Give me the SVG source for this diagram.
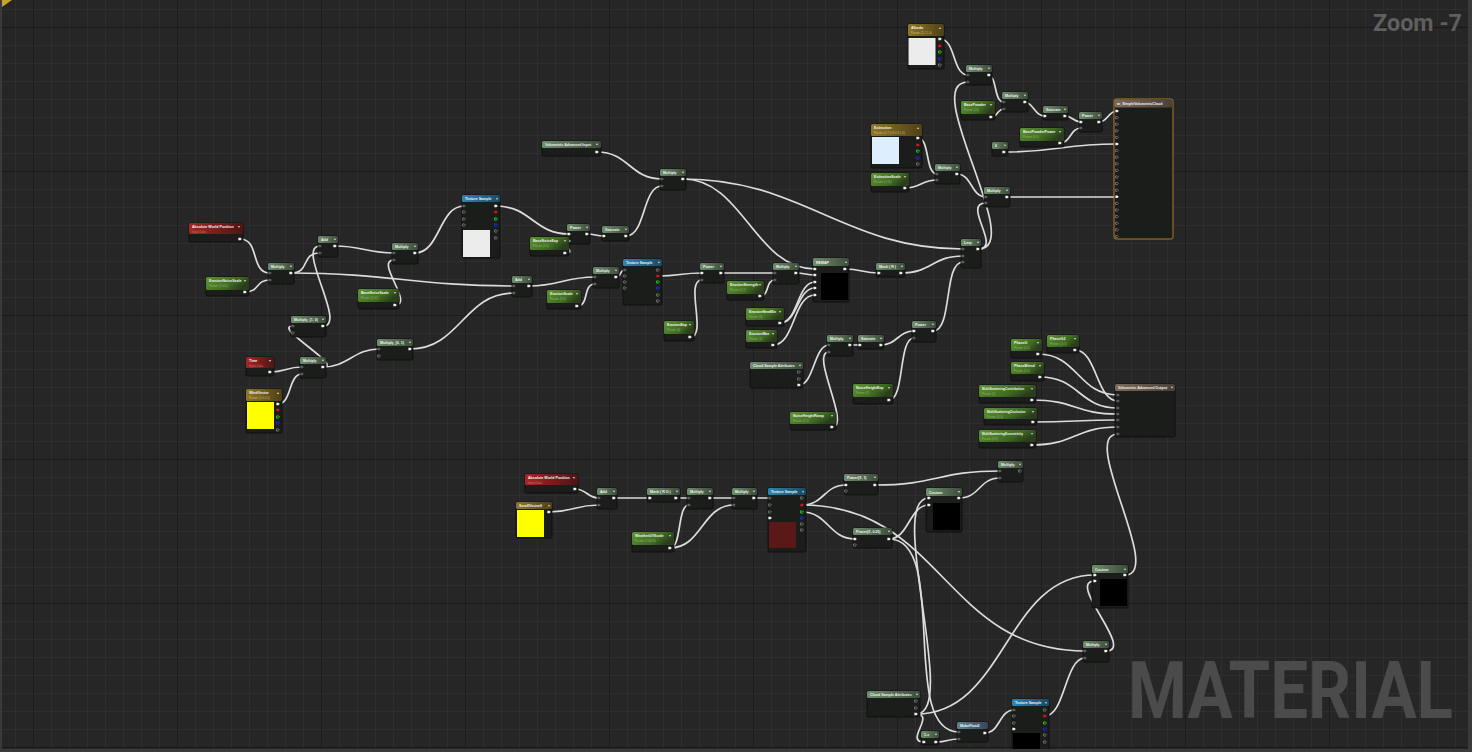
<svg xmlns="http://www.w3.org/2000/svg" xmlns:xlink="http://www.w3.org/1999/xlink" width="1472" height="752" viewBox="0 0 1472 752">
<style>
.b{fill:#1b1d1b;stroke:#0b0b0b;stroke-width:0.8}
.hm{fill:url(#gM)}.hp{fill:url(#gP)}.hr{fill:url(#gR)}.hy{fill:url(#gY)}.hb{fill:url(#gB)}.ho{fill:url(#gO)}.hf{fill:url(#gF)}
.t{font-family:"Liberation Sans",Arial,sans-serif;font-size:3.6px;font-weight:bold;fill:#f2f2f2}
.s{font-family:"Liberation Sans",Arial,sans-serif;font-size:3px;fill:#8fae6f}
.sr{font-family:"Liberation Sans",Arial,sans-serif;font-size:3px;fill:#d07070}
.w{fill:none;stroke:#dcdcdc;stroke-width:1.7;stroke-linecap:round}
.big{font-family:Roboto,"Liberation Sans",sans-serif;font-weight:bold}
</style>
<defs>
<pattern id="minor" width="18" height="18" x="15" y="9" patternUnits="userSpaceOnUse"><path d="M0,0V18M0,0H18" stroke="#353535" stroke-width="1" fill="none"/></pattern>
<pattern id="major" width="144" height="144" x="33" y="27" patternUnits="userSpaceOnUse"><path d="M0,0V144M0,0H144" stroke="#121212" stroke-width="1.3" fill="none"/></pattern>
<linearGradient id="gM" x1="0" x2="1"><stop offset="0" stop-color="#6f8e6c"/><stop offset="1" stop-color="#3c4c3c"/></linearGradient>
<linearGradient id="gP" x1="0" x2="1" y1="0" y2="0.4"><stop offset="0" stop-color="#5e9432"/><stop offset="0.7" stop-color="#3e6a22"/><stop offset="1" stop-color="#2a3e1c"/></linearGradient>
<linearGradient id="gR" x1="0" x2="1"><stop offset="0" stop-color="#a52626"/><stop offset="1" stop-color="#4e1414"/></linearGradient>
<linearGradient id="gY" x1="0" x2="1"><stop offset="0" stop-color="#8f7628"/><stop offset="1" stop-color="#4e4016"/></linearGradient>
<linearGradient id="gB" x1="0" x2="1"><stop offset="0" stop-color="#2e86b2"/><stop offset="1" stop-color="#1a4a62"/></linearGradient>
<linearGradient id="gO" x1="0" x2="1"><stop offset="0" stop-color="#7c6a58"/><stop offset="1" stop-color="#4a4038"/></linearGradient>
<linearGradient id="gF" x1="0" x2="1"><stop offset="0" stop-color="#5e8294"/><stop offset="1" stop-color="#34485a"/></linearGradient>
<path id="pw" d="M-1.6,-1.3h2l1.4,1.3l-1.4,1.3h-2z" fill="#f2f2f2"/>
<path id="pg" d="M-1.6,-1.3h2l1.4,1.3l-1.4,1.3h-2z" fill="#5e5e5e"/>
<path id="ph" d="M-1.4,-1.1h1.8l1.1,1.1l-1.1,1.1h-1.8z" fill="none" stroke="#a0a0a0" stroke-width="0.6"/>
<path id="pr" d="M-1.6,-1.3h2l1.4,1.3l-1.4,1.3h-2z" fill="#e01414"/>
<path id="pn" d="M-1.4,-1.1h1.8l1.1,1.1l-1.1,1.1h-1.8z" fill="none" stroke="#18e018" stroke-width="0.9"/>
<path id="pu" d="M-1.4,-1.1h1.8l1.1,1.1l-1.1,1.1h-1.8z" fill="none" stroke="#1830f0" stroke-width="0.9"/>
<path id="dd" d="M-1.3,-0.7h2.6l-1.3,1.4z" fill="#e8e8e8"/>
<path id="du" d="M-1.3,0.7h2.6l-1.3,-1.4z" fill="#e8e8e8"/>
</defs>

<rect width="1472" height="752" fill="#262626"/>
<rect width="1472" height="752" fill="url(#minor)"/>
<rect width="1472" height="752" fill="url(#major)"/>

<g id="connectors">
<path class="w" d="M240,239 C260,239 250,273 270,273"/>
<path class="w" d="M245,292 C260,292 255,280 270,280"/>
<path class="w" d="M291,273 C311,273 300,253 320,253"/>
<path class="w" d="M291,273 C391,273 414,286 514,286"/>
<path class="w" d="M323,326 C348,326 295,246 320,246"/>
<path class="w" d="M335,246 C362,246 367,253 394,253"/>
<path class="w" d="M395,305 C415,305 374,260 394,260"/>
<path class="w" d="M415,253 C440,253 439,206 464,206"/>
<path class="w" d="M323,367 C345,367 271,326 293,326"/>
<path class="w" d="M323,367 C348,367 354,349 379,349"/>
<path class="w" d="M270,372 C286,372 286,367 302,367"/>
<path class="w" d="M278,404 C292,404 288,374 302,374"/>
<path class="w" d="M410,349 C460,349 464,293 514,293"/>
<path class="w" d="M597,152 C629,152 630,179 662,179"/>
<path class="w" d="M626,236 C646,236 642,186 662,186"/>
<path class="w" d="M496,206 C531,206 534,234 569,234"/>
<path class="w" d="M565,253 C580,253 554,241 569,241"/>
<path class="w" d="M587,234 C596,234 595,236 604,236"/>
<path class="w" d="M529,286 C559,286 565,277 595,277"/>
<path class="w" d="M577,306 C590,306 582,284 595,284"/>
<path class="w" d="M616,277 C622,277 619,270 625,270"/>
<path class="w" d="M658,276 C680,276 680,273 702,273"/>
<path class="w" d="M690,337 C708,337 684,280 702,280"/>
<path class="w" d="M721,273 C748,273 748,273 775,273"/>
<path class="w" d="M760,296 C770,296 765,280 775,280"/>
<path class="w" d="M796,273 C805,273 806,275 815,275"/>
<path class="w" d="M683,179 C743,179 755,269 815,269"/>
<path class="w" d="M683,179 C803,179 843,249 963,249"/>
<path class="w" d="M780,323 C798,323 797,282 815,282"/>
<path class="w" d="M780,323 C798,323 797,288 815,288"/>
<path class="w" d="M773,345 C795,345 793,295 815,295"/>
<path class="w" d="M845,269 C862,269 862,273 879,273"/>
<path class="w" d="M901,273 C932,273 932,256 963,256"/>
<path class="w" d="M933,331 C953,331 943,262 963,262"/>
<path class="w" d="M799,385 C814,385 814,345 829,345"/>
<path class="w" d="M832,427 C852,427 809,352 829,352"/>
<path class="w" d="M850,345 L860,345"/>
<path class="w" d="M881,345 C897,345 898,331 914,331"/>
<path class="w" d="M889,400 C905,400 898,338 914,338"/>
<path class="w" d="M940,39 C956,39 952,75 968,75"/>
<path class="w" d="M978,249 C1028,249 918,82 968,82"/>
<path class="w" d="M987,75 C998,75 993,102 1004,102"/>
<path class="w" d="M991,117 C998,117 997,109 1004,109"/>
<path class="w" d="M1023,102 C1034,102 1034,116 1045,116"/>
<path class="w" d="M1065,116 C1073,116 1073,122 1081,122"/>
<path class="w" d="M1060,143 C1071,143 1070,128 1081,128"/>
<path class="w" d="M1099,122 C1108,122 1108,111 1117,111"/>
<path class="w" d="M1004,152 C1060,152 1061,144 1117,144"/>
<path class="w" d="M918,138 C930,138 925,174 937,174"/>
<path class="w" d="M905,188 C921,188 921,180 937,180"/>
<path class="w" d="M957,174 C972,174 971,197 986,197"/>
<path class="w" d="M978,249 C1003,249 961,203 986,203"/>
<path class="w" d="M1007,197 C1060,197 1064,197 1117,197"/>
<path class="w" d="M1038,354 C1078,354 1078,395 1118,395"/>
<path class="w" d="M1075,350 C1097,350 1096,401 1118,401"/>
<path class="w" d="M1040,377 C1079,377 1079,408 1118,408"/>
<path class="w" d="M1032,400 C1075,400 1075,414 1118,414"/>
<path class="w" d="M1033,422 C1075,422 1076,420 1118,420"/>
<path class="w" d="M1032,445 C1075,445 1075,427 1118,427"/>
<path class="w" d="M1125,575 C1165,575 1078,434 1118,434"/>
<path class="w" d="M575,489 C587,489 587,498 599,498"/>
<path class="w" d="M549,512 C574,512 574,505 599,505"/>
<path class="w" d="M614,498 L650,498"/>
<path class="w" d="M676,498 L689,498"/>
<path class="w" d="M670,548 C682,548 677,505 689,505"/>
<path class="w" d="M670,548 C702,548 702,505 734,505"/>
<path class="w" d="M710,498 L734,498"/>
<path class="w" d="M754,498 L771,498"/>
<path class="w" d="M802,505 C824,505 824,485 846,485"/>
<path class="w" d="M802,505 C942,505 945,651 1085,651"/>
<path class="w" d="M802,512 C828,512 829,539 855,539"/>
<path class="w" d="M875,485 C937,485 938,471 1000,471"/>
<path class="w" d="M959,498 C980,498 979,478 1000,478"/>
<path class="w" d="M889,539 C909,539 909,505 929,505"/>
<path class="w" d="M916,714 C960,714 885,498 929,498"/>
<path class="w" d="M889,539 C950,539 898,732 959,732"/>
<path class="w" d="M916,714 C936,714 904,742 924,742"/>
<path class="w" d="M936,742 C948,742 947,739 959,739"/>
<path class="w" d="M985,733 C1000,733 999,710 1014,710"/>
<path class="w" d="M1045,716 C1065,716 1065,658 1085,658"/>
<path class="w" d="M1106,651 C1136,651 1065,581 1095,581"/>
<path class="w" d="M916,714 C1006,714 1005,575 1095,575"/>
</g>

<!-- left cluster -->
<g id="n1" transform="translate(189,223)"><rect class="b" width="54" height="19" rx="1.5"/><rect class="hr" width="54" height="11" rx="1.5"/><text class="t" x="3" y="5">Absolute World Position</text><text class="sr" x="3" y="9.5">Input Data</text><use href="#dd" x="50" y="4"/><use href="#pw" x="51" y="16"/></g>
<g id="n2" transform="translate(206,277)"><rect class="b" width="43" height="19" rx="1.5"/><rect class="hp" width="43" height="13" rx="1.5"/><text class="t" x="3" y="5">ErosionNoiseScale</text><text class="s" x="3" y="10">Param (0.001)</text><use href="#dd" x="39" y="4"/><use href="#pw" x="39" y="15"/></g>
<g id="n3" transform="translate(268,263)"><rect class="b" width="26" height="21" rx="1.5"/><rect class="hm" width="26" height="7" rx="1.5"/><text class="t" x="3" y="5">Multiply</text><use href="#dd" x="23" y="3.5"/><use href="#pg" x="2" y="10"/><use href="#pg" x="2" y="17"/><use href="#pw" x="23" y="10"/></g>
<g id="n4" transform="translate(318,236)"><rect class="b" width="20" height="21" rx="1.5"/><rect class="hm" width="20" height="7" rx="1.5"/><text class="t" x="3" y="5">Add</text><use href="#dd" x="17" y="3.5"/><use href="#pg" x="2" y="10"/><use href="#pg" x="2" y="17"/><use href="#pw" x="17" y="10"/></g>
<g id="n5" transform="translate(392,243)"><rect class="b" width="26" height="21" rx="1.5"/><rect class="hm" width="26" height="7" rx="1.5"/><text class="t" x="3" y="5">Multiply</text><use href="#dd" x="23" y="3.5"/><use href="#pg" x="2" y="10"/><use href="#pg" x="2" y="17"/><use href="#pw" x="23" y="10"/></g>
<g id="n6" transform="translate(358,289)"><rect class="b" width="41" height="20" rx="1.5"/><rect class="hp" width="41" height="13" rx="1.5"/><text class="t" x="3" y="5">BaseNoiseScale</text><text class="s" x="3" y="10">Param (0.01)</text><use href="#dd" x="37" y="4"/><use href="#pw" x="37" y="16"/></g>
<g id="n7" transform="translate(291,316)"><rect class="b" width="35" height="21" rx="1.5"/><rect class="hm" width="35" height="7" rx="1.5"/><text class="t" x="3" y="5">Multiply_(1, 0)</text><use href="#dd" x="32" y="3.5"/><use href="#pg" x="2" y="10"/><use href="#ph" x="2" y="17"/><use href="#pw" x="32" y="10"/></g>
<g id="n8" transform="translate(377,339)"><rect class="b" width="36" height="21" rx="1.5"/><rect class="hm" width="36" height="7" rx="1.5"/><text class="t" x="3" y="5">Multiply_(0, 1)</text><use href="#dd" x="33" y="3.5"/><use href="#pg" x="2" y="10"/><use href="#ph" x="2" y="17"/><use href="#pw" x="33" y="10"/></g>
<g id="n9" transform="translate(246,357)"><rect class="b" width="28" height="19" rx="1.5"/><rect class="hr" width="28" height="11" rx="1.5"/><text class="t" x="3" y="5">Time</text><text class="sr" x="3" y="9.5">Input Data</text><use href="#dd" x="24" y="4"/><use href="#pw" x="24" y="15"/></g>
<g id="n10" transform="translate(300,357)"><rect class="b" width="26" height="21" rx="1.5"/><rect class="hm" width="26" height="7" rx="1.5"/><text class="t" x="3" y="5">Multiply</text><use href="#dd" x="23" y="3.5"/><use href="#pg" x="2" y="10"/><use href="#pg" x="2" y="17"/><use href="#pw" x="23" y="10"/></g>
<g id="n11" transform="translate(246,389)"><rect class="b" width="36" height="44" rx="1.5"/><rect class="hy" width="36" height="12" rx="1.5"/><text class="t" x="3" y="5">WindVector</text><text class="s" x="3" y="10" style="fill:#c8b070">Param (1,0,0,0)</text><use href="#du" x="32" y="4"/><rect x="1" y="13" width="27" height="27" fill="#ffff00"/><use href="#pw" x="32" y="15"/><use href="#pr" x="32" y="21"/><use href="#pn" x="32" y="28"/><use href="#pu" x="32" y="34"/><use href="#ph" x="32" y="41"/></g>

<!-- middle upper -->
<g id="n12" transform="translate(462,195)"><rect class="b" width="38" height="63" rx="1.5"/><rect class="hb" width="38" height="7" rx="1.5"/><text class="t" x="3" y="5">Texture Sample</text><use href="#du" x="35" y="3.5"/><use href="#pg" x="2" y="11"/><use href="#ph" x="2" y="17"/><use href="#ph" x="2" y="24"/><use href="#ph" x="2" y="30"/><use href="#pw" x="34" y="11"/><use href="#pr" x="34" y="17"/><use href="#pn" x="34" y="24"/><use href="#pu" x="34" y="30"/><use href="#ph" x="34" y="36"/><use href="#ph" x="34" y="43"/><rect x="1" y="35" width="27" height="27" fill="#ececec"/></g>
<g id="n13" transform="translate(542,141)"><rect class="b" width="59" height="15" rx="1.5"/><rect class="hm" width="59" height="7" rx="1.5"/><text class="t" x="3" y="5">Volumetric Advanced Input</text><use href="#dd" x="55" y="3.5"/><use href="#pw" x="55" y="11"/></g>
<g id="n14" transform="translate(660,169)"><rect class="b" width="26" height="21" rx="1.5"/><rect class="hm" width="26" height="7" rx="1.5"/><text class="t" x="3" y="5">Multiply</text><use href="#dd" x="23" y="3.5"/><use href="#pg" x="2" y="10"/><use href="#pg" x="2" y="17"/><use href="#pw" x="23" y="10"/></g>
<g id="n15" transform="translate(567,224)"><rect class="b" width="23" height="20" rx="1.5"/><rect class="hm" width="23" height="7" rx="1.5"/><text class="t" x="3" y="5">Power</text><use href="#dd" x="20" y="3.5"/><use href="#pw" x="2" y="10"/><use href="#pw" x="2" y="17"/><use href="#pw" x="20" y="10"/></g>
<g id="n16" transform="translate(602,226)"><rect class="b" width="27" height="15" rx="1.5"/><rect class="hm" width="27" height="7" rx="1.5"/><text class="t" x="3" y="5">Saturate</text><use href="#dd" x="24" y="3.5"/><use href="#pw" x="2" y="10"/><use href="#pw" x="24" y="10"/></g>
<g id="n17" transform="translate(530,237)"><rect class="b" width="39" height="19" rx="1.5"/><rect class="hp" width="39" height="13" rx="1.5"/><text class="t" x="3" y="5">BaseNoiseExp</text><text class="s" x="3" y="10">Param (1.5)</text><use href="#dd" x="35" y="4"/><use href="#pw" x="35" y="16"/></g>
<g id="n18" transform="translate(512,276)"><rect class="b" width="20" height="21" rx="1.5"/><rect class="hm" width="20" height="7" rx="1.5"/><text class="t" x="3" y="5">Add</text><use href="#dd" x="17" y="3.5"/><use href="#pg" x="2" y="10"/><use href="#pg" x="2" y="17"/><use href="#pw" x="17" y="10"/></g>
<g id="n19" transform="translate(547,290)"><rect class="b" width="34" height="19" rx="1.5"/><rect class="hp" width="34" height="13" rx="1.5"/><text class="t" x="3" y="5">ErosionScale</text><text class="s" x="3" y="10">Param (0.5)</text><use href="#dd" x="30" y="4"/><use href="#pw" x="30" y="16"/></g>
<g id="n20" transform="translate(593,267)"><rect class="b" width="26" height="21" rx="1.5"/><rect class="hm" width="26" height="7" rx="1.5"/><text class="t" x="3" y="5">Multiply</text><use href="#dd" x="23" y="3.5"/><use href="#pg" x="2" y="10"/><use href="#pg" x="2" y="17"/><use href="#pw" x="23" y="10"/></g>
<g id="n21" transform="translate(623,259)"><rect class="b" width="39" height="46" rx="1.5"/><rect class="hb" width="39" height="7" rx="1.5"/><text class="t" x="3" y="5">Texture Sample</text><use href="#dd" x="36" y="3.5"/><use href="#pg" x="2" y="11"/><use href="#ph" x="2" y="17"/><use href="#ph" x="2" y="23"/><use href="#ph" x="2" y="29"/><use href="#ph" x="35" y="11"/><use href="#pr" x="35" y="17"/><use href="#pn" x="35" y="23"/><use href="#pu" x="35" y="29"/><use href="#ph" x="35" y="36"/><use href="#ph" x="35" y="42"/></g>
<g id="n22" transform="translate(700,263)"><rect class="b" width="24" height="20" rx="1.5"/><rect class="hm" width="24" height="7" rx="1.5"/><text class="t" x="3" y="5">Power</text><use href="#dd" x="21" y="3.5"/><use href="#pw" x="2" y="10"/><use href="#pg" x="2" y="17"/><use href="#pw" x="21" y="10"/></g>
<g id="n23" transform="translate(664,321)"><rect class="b" width="30" height="20" rx="1.5"/><rect class="hp" width="30" height="13" rx="1.5"/><text class="t" x="3" y="5">ErosionExp</text><text class="s" x="3" y="10">Param (4)</text><use href="#dd" x="26" y="4"/><use href="#pw" x="26" y="16"/></g>
<g id="n24" transform="translate(727,281)"><rect class="b" width="37" height="19" rx="1.5"/><rect class="hp" width="37" height="13" rx="1.5"/><text class="t" x="3" y="5">ErosionStrength</text><text class="s" x="3" y="10">Param (0.2)</text><use href="#dd" x="33" y="4"/><use href="#pw" x="33" y="15"/></g>
<g id="n25" transform="translate(773,263)"><rect class="b" width="26" height="21" rx="1.5"/><rect class="hm" width="26" height="7" rx="1.5"/><text class="t" x="3" y="5">Multiply</text><use href="#dd" x="23" y="3.5"/><use href="#pg" x="2" y="10"/><use href="#pg" x="2" y="17"/><use href="#pw" x="23" y="10"/></g>
<g id="n26" transform="translate(813,258)"><rect class="b" width="36" height="44" rx="1.5"/><rect class="hm" width="36" height="8" rx="1.5"/><text class="t" x="3" y="5.5">REMAP</text><use href="#du" x="33" y="4"/><use href="#pw" x="2" y="11"/><use href="#pw" x="2" y="17"/><use href="#pw" x="2" y="24"/><use href="#pw" x="2" y="30"/><use href="#pw" x="2" y="37"/><use href="#pw" x="32" y="11"/><rect x="8" y="15" width="27" height="27" fill="#000"/></g>
<g id="n27" transform="translate(746,308)"><rect class="b" width="38" height="18" rx="1.5"/><rect class="hp" width="38" height="12" rx="1.5"/><text class="t" x="3" y="5">ErosionNewMin</text><text class="s" x="3" y="9.5">Param (0)</text><use href="#dd" x="34" y="4"/><use href="#pw" x="34" y="15"/></g>
<g id="n28" transform="translate(746,330)"><rect class="b" width="31" height="18" rx="1.5"/><rect class="hp" width="31" height="12" rx="1.5"/><text class="t" x="3" y="5">ErosionMax</text><text class="s" x="3" y="9.5">Param (1)</text><use href="#dd" x="27" y="4"/><use href="#pw" x="27" y="15"/></g>
<g id="n29" transform="translate(876,263)"><rect class="b" width="29" height="14" rx="1.5"/><rect class="hm" width="29" height="7" rx="1.5"/><text class="t" x="3" y="5">Mask ( R )</text><use href="#dd" x="26" y="3.5"/><use href="#pw" x="3" y="10"/><use href="#pw" x="25" y="10"/></g>
<g id="n30" transform="translate(961,239)"><rect class="b" width="20" height="29" rx="1.5"/><rect class="hm" width="20" height="7" rx="1.5"/><text class="t" x="3" y="5">Lerp</text><use href="#dd" x="17" y="3.5"/><use href="#pg" x="2" y="10"/><use href="#pg" x="2" y="17"/><use href="#pg" x="2" y="23"/><use href="#pw" x="17" y="10"/></g>
<g id="n31" transform="translate(827,335)"><rect class="b" width="26" height="21" rx="1.5"/><rect class="hm" width="26" height="7" rx="1.5"/><text class="t" x="3" y="5">Multiply</text><use href="#dd" x="23" y="3.5"/><use href="#pg" x="2" y="10"/><use href="#pg" x="2" y="17"/><use href="#pw" x="23" y="10"/></g>
<g id="n32" transform="translate(858,335)"><rect class="b" width="26" height="14" rx="1.5"/><rect class="hm" width="26" height="7" rx="1.5"/><text class="t" x="3" y="5">Saturate</text><use href="#dd" x="23" y="3.5"/><use href="#pw" x="2" y="10"/><use href="#pw" x="23" y="10"/></g>
<g id="n33" transform="translate(912,321)"><rect class="b" width="24" height="21" rx="1.5"/><rect class="hm" width="24" height="7" rx="1.5"/><text class="t" x="3" y="5">Power</text><use href="#dd" x="21" y="3.5"/><use href="#pw" x="2" y="10"/><use href="#pg" x="2" y="17"/><use href="#pw" x="21" y="10"/></g>
<g id="n34" transform="translate(750,362)"><rect class="b" width="53" height="26" rx="1.5"/><rect class="hm" width="53" height="7" rx="1.5"/><text class="t" x="3" y="5">Cloud Sample Attributes</text><use href="#dd" x="50" y="3.5"/><use href="#ph" x="49" y="10"/><use href="#ph" x="49" y="17"/><use href="#pw" x="49" y="23"/></g>
<g id="n35" transform="translate(853,384)"><rect class="b" width="40" height="20" rx="1.5"/><rect class="hp" width="40" height="13" rx="1.5"/><text class="t" x="3" y="5">NoiseHeightExp</text><text class="s" x="3" y="10">Param (2)</text><use href="#dd" x="36" y="4"/><use href="#pw" x="36" y="16"/></g>
<g id="n36" transform="translate(790,412)"><rect class="b" width="46" height="18" rx="1.5"/><rect class="hp" width="46" height="12" rx="1.5"/><text class="t" x="3" y="5">NoiseHeightRamp</text><text class="s" x="3" y="9.5">Param (2.5)</text><use href="#dd" x="42" y="4"/><use href="#pw" x="42" y="15"/></g>

<!-- top right -->
<g id="n37" transform="translate(908,24)"><rect class="b" width="36" height="45" rx="1.5"/><rect class="hy" width="36" height="12" rx="1.5"/><text class="t" x="3" y="5">Albedo</text><text class="s" x="3" y="10" style="fill:#c8b070">Param (1,1,1,0)</text><use href="#du" x="32" y="4"/><rect x="0.5" y="14" width="27" height="27" fill="#ececec"/><use href="#pw" x="32" y="15"/><use href="#pr" x="32" y="22"/><use href="#pn" x="32" y="28"/><use href="#pu" x="32" y="35"/><use href="#ph" x="32" y="41"/></g>
<g id="n38" transform="translate(966,65)"><rect class="b" width="26" height="20" rx="1.5"/><rect class="hm" width="26" height="7" rx="1.5"/><text class="t" x="3" y="5">Multiply</text><use href="#dd" x="23" y="3.5"/><use href="#pg" x="2" y="10"/><use href="#pg" x="2" y="17"/><use href="#pw" x="23" y="10"/></g>
<g id="n39" transform="translate(961,101)"><rect class="b" width="34" height="19" rx="1.5"/><rect class="hp" width="34" height="13" rx="1.5"/><text class="t" x="3" y="5">BasePowder</text><text class="s" x="3" y="10">Param (20)</text><use href="#dd" x="30" y="4"/><use href="#pw" x="30" y="16"/></g>
<g id="n40" transform="translate(1002,92)"><rect class="b" width="26" height="20" rx="1.5"/><rect class="hm" width="26" height="7" rx="1.5"/><text class="t" x="3" y="5">Multiply</text><use href="#dd" x="23" y="3.5"/><use href="#pg" x="2" y="10"/><use href="#pg" x="2" y="17"/><use href="#pw" x="23" y="10"/></g>
<g id="n41" transform="translate(1043,106)"><rect class="b" width="25" height="14" rx="1.5"/><rect class="hm" width="25" height="7" rx="1.5"/><text class="t" x="3" y="5">Saturate</text><use href="#dd" x="22" y="3.5"/><use href="#pw" x="2" y="10"/><use href="#pw" x="22" y="10"/></g>
<g id="n42" transform="translate(1079,112)"><rect class="b" width="23" height="20" rx="1.5"/><rect class="hm" width="23" height="7" rx="1.5"/><text class="t" x="3" y="5">Power</text><use href="#dd" x="20" y="3.5"/><use href="#pw" x="2" y="10"/><use href="#pg" x="2" y="16"/><use href="#pw" x="20" y="10"/></g>
<g id="n43" transform="translate(1020,128)"><rect class="b" width="44" height="19" rx="1.5"/><rect class="hp" width="44" height="13" rx="1.5"/><text class="t" x="3" y="5">BasePowderPower</text><text class="s" x="3" y="10">Param (0.5)</text><use href="#dd" x="40" y="4"/><use href="#pw" x="40" y="15"/></g>
<g id="n44" transform="translate(871,124)"><rect class="b" width="51" height="44" rx="1.5"/><rect class="hy" width="51" height="12" rx="1.5"/><text class="t" x="3" y="5">Extinction</text><text class="s" x="3" y="10" style="fill:#c8b070">Param (0.7,0.8,0.9,1.0)</text><use href="#du" x="47" y="4"/><rect x="1" y="13" width="27" height="27" fill="#ddeeff"/><use href="#pw" x="47" y="14"/><use href="#pr" x="47" y="21"/><use href="#pn" x="47" y="27"/><use href="#pu" x="47" y="34"/><use href="#ph" x="47" y="40"/></g>
<g id="n45" transform="translate(871,173)"><rect class="b" width="38" height="19" rx="1.5"/><rect class="hp" width="38" height="13" rx="1.5"/><text class="t" x="3" y="5">ExtinctionScale</text><text class="s" x="3" y="10">Param (0.05)</text><use href="#dd" x="34" y="4"/><use href="#pw" x="34" y="15"/></g>
<g id="n46" transform="translate(935,164)"><rect class="b" width="25" height="20" rx="1.5"/><rect class="hm" width="25" height="7" rx="1.5"/><text class="t" x="3" y="5">Multiply</text><use href="#dd" x="22" y="3.5"/><use href="#pg" x="2" y="10"/><use href="#pg" x="2" y="16"/><use href="#pw" x="22" y="10"/></g>
<g id="n47" transform="translate(992,142)"><rect class="b" width="16" height="14" rx="1.5"/><rect class="hm" width="16" height="7" rx="1.5"/><text class="t" x="3" y="5">0</text><use href="#dd" x="13" y="3.5"/><use href="#pw" x="12" y="10"/></g>
<g id="n48" transform="translate(984,187)"><rect class="b" width="26" height="20" rx="1.5"/><rect class="hm" width="26" height="7" rx="1.5"/><text class="t" x="3" y="5">Multiply</text><use href="#dd" x="23" y="3.5"/><use href="#pg" x="2" y="10"/><use href="#pg" x="2" y="16"/><use href="#pw" x="23" y="10"/></g>
<g id="n49" transform="translate(1114,99)"><rect width="59" height="140" rx="2" fill="#1b1d1a" stroke="#b07a22" stroke-width="1"/><rect class="ho" x="0.5" y="0.5" width="58" height="8" rx="1.5"/><text class="t" x="3" y="5.8">m_SimpleVolumetricCloud</text><use href="#pw" x="3" y="12"/><use href="#ph" x="3" y="18.6"/><use href="#ph" x="3" y="25.2"/><use href="#ph" x="3" y="31.8"/><use href="#ph" x="3" y="38.4"/><use href="#pw" x="3" y="45"/><use href="#ph" x="3" y="51.6"/><use href="#ph" x="3" y="58.2"/><use href="#ph" x="3" y="64.8"/><use href="#ph" x="3" y="71.4"/><use href="#ph" x="3" y="78"/><use href="#ph" x="3" y="84.6"/><use href="#ph" x="3" y="91.2"/><use href="#pw" x="3" y="97.8"/><use href="#ph" x="3" y="104.4"/><use href="#ph" x="3" y="111"/><use href="#ph" x="3" y="117.6"/><use href="#ph" x="3" y="124.2"/><use href="#ph" x="3" y="130.8"/><use href="#ph" x="3" y="137.4"/></g>

<!-- volumetric output cluster -->
<g id="n50" transform="translate(1011,339)"><rect class="b" width="31" height="19" rx="1.5"/><rect class="hp" width="31" height="12" rx="1.5"/><text class="t" x="3" y="5">PhaseG</text><text class="s" x="3" y="9.5">Param (0.5)</text><use href="#dd" x="27" y="4"/><use href="#pw" x="27" y="15"/></g>
<g id="n51" transform="translate(1047,335)"><rect class="b" width="32" height="18" rx="1.5"/><rect class="hp" width="32" height="12" rx="1.5"/><text class="t" x="3" y="5">PhaseG2</text><text class="s" x="3" y="9.5">Param (-0.5)</text><use href="#dd" x="28" y="4"/><use href="#pw" x="28" y="15"/></g>
<g id="n52" transform="translate(1011,362)"><rect class="b" width="33" height="19" rx="1.5"/><rect class="hp" width="33" height="12" rx="1.5"/><text class="t" x="3" y="5">PhaseBlend</text><text class="s" x="3" y="9.5">Param (0.5)</text><use href="#dd" x="29" y="4"/><use href="#pw" x="29" y="15"/></g>
<g id="n53" transform="translate(979,385)"><rect class="b" width="57" height="18" rx="1.5"/><rect class="hp" width="57" height="12" rx="1.5"/><text class="t" x="3" y="5" style="font-size:3.2px">MultiScatteringContribution</text><text class="s" x="3" y="9.5">Param (1)</text><use href="#dd" x="53" y="4"/><use href="#pw" x="53" y="15"/></g>
<g id="n54" transform="translate(984,408)"><rect class="b" width="53" height="17" rx="1.5"/><rect class="hp" width="53" height="11" rx="1.5"/><text class="t" x="3" y="5" style="font-size:3.2px">MultiScatteringOcclusion</text><text class="s" x="3" y="9.5">Param (0.5)</text><use href="#dd" x="49" y="4"/><use href="#pw" x="49" y="14"/></g>
<g id="n55" transform="translate(979,430)"><rect class="b" width="57" height="18" rx="1.5"/><rect class="hp" width="57" height="12" rx="1.5"/><text class="t" x="3" y="5" style="font-size:3.2px">MultiScatteringEccentricity</text><text class="s" x="3" y="9.5">Param (0.5)</text><use href="#dd" x="53" y="4"/><use href="#pw" x="53" y="15"/></g>
<g id="n56" transform="translate(1115,384)"><rect class="b" width="60" height="53" rx="1.5"/><rect class="ho" width="60" height="7" rx="1.5"/><text class="t" x="3" y="5">Volumetric Advanced Output</text><use href="#dd" x="57" y="3.5"/><use href="#pg" x="3" y="11"/><use href="#pg" x="3" y="17"/><use href="#pg" x="3" y="24"/><use href="#pg" x="3" y="30"/><use href="#pg" x="3" y="36"/><use href="#pg" x="3" y="43"/><use href="#pg" x="3" y="50"/></g>

<!-- bottom chain -->
<g id="n57" transform="translate(525,474)"><rect class="b" width="53" height="19" rx="1.5"/><rect class="hr" width="53" height="11" rx="1.5"/><text class="t" x="3" y="5">Absolute World Position</text><text class="sr" x="3" y="9.5">Input Data</text><use href="#dd" x="49" y="4"/><use href="#pw" x="50" y="15"/></g>
<g id="n58" transform="translate(516,502)"><rect class="b" width="36" height="36" rx="1.5"/><rect class="hy" width="36" height="7" rx="1.5"/><text class="t" x="3" y="5">ScrollVector0</text><use href="#du" x="33" y="3.5"/><rect x="1" y="8" width="27" height="27" fill="#ffff00"/><use href="#pw" x="33" y="10"/></g>
<g id="n59" transform="translate(597,488)"><rect class="b" width="20" height="21" rx="1.5"/><rect class="hm" width="20" height="7" rx="1.5"/><text class="t" x="3" y="5">Add</text><use href="#dd" x="17" y="3.5"/><use href="#pg" x="2" y="10"/><use href="#pg" x="2" y="17"/><use href="#pw" x="17" y="10"/></g>
<g id="n60" transform="translate(647,488)"><rect class="b" width="33" height="14" rx="1.5"/><rect class="hm" width="33" height="7" rx="1.5"/><text class="t" x="3" y="5">Mask ( R G )</text><use href="#dd" x="30" y="3.5"/><use href="#pw" x="3" y="10"/><use href="#pw" x="29" y="10"/></g>
<g id="n61" transform="translate(687,488)"><rect class="b" width="26" height="21" rx="1.5"/><rect class="hm" width="26" height="7" rx="1.5"/><text class="t" x="3" y="5">Multiply</text><use href="#dd" x="23" y="3.5"/><use href="#pg" x="2" y="10"/><use href="#pg" x="2" y="17"/><use href="#pw" x="23" y="10"/></g>
<g id="n62" transform="translate(732,488)"><rect class="b" width="25" height="21" rx="1.5"/><rect class="hm" width="25" height="7" rx="1.5"/><text class="t" x="3" y="5">Multiply</text><use href="#dd" x="22" y="3.5"/><use href="#pg" x="2" y="10"/><use href="#pg" x="2" y="17"/><use href="#pw" x="22" y="10"/></g>
<g id="n63" transform="translate(632,532)"><rect class="b" width="42" height="20" rx="1.5"/><rect class="hp" width="42" height="13" rx="1.5"/><text class="t" x="3" y="5">WeatherUVScale</text><text class="s" x="3" y="10">Param (0.0005)</text><use href="#dd" x="38" y="4"/><use href="#pw" x="38" y="16"/></g>
<g id="n64" transform="translate(768,488)"><rect class="b" width="38" height="64" rx="1.5"/><rect class="hb" width="38" height="7" rx="1.5"/><text class="t" x="3" y="5">Texture Sample</text><use href="#du" x="35" y="3.5"/><use href="#pg" x="2" y="10"/><use href="#ph" x="2" y="17"/><use href="#ph" x="2" y="24"/><use href="#pw" x="2" y="30"/><use href="#ph" x="34" y="10"/><use href="#pr" x="34" y="17"/><use href="#pn" x="34" y="24"/><use href="#pu" x="34" y="30"/><use href="#ph" x="34" y="36"/><use href="#ph" x="34" y="42"/><rect x="1" y="34" width="27" height="26" fill="#5a1818"/></g>
<g id="n65" transform="translate(844,474)"><rect class="b" width="34" height="21" rx="1.5"/><rect class="hm" width="34" height="7" rx="1.5"/><text class="t" x="3" y="5">Power(X, 1)</text><use href="#dd" x="31" y="3.5"/><use href="#pw" x="2" y="11"/><use href="#ph" x="2" y="17"/><use href="#pw" x="31" y="11"/></g>
<g id="n66" transform="translate(853,528)"><rect class="b" width="39" height="20" rx="1.5"/><rect class="hm" width="39" height="7" rx="1.5"/><text class="t" x="3" y="5">Power(X, 0.25)</text><use href="#dd" x="36" y="3.5"/><use href="#pw" x="2" y="11"/><use href="#ph" x="2" y="17"/><use href="#pw" x="36" y="11"/></g>
<g id="n67" transform="translate(926,488)"><rect class="b" width="36" height="44" rx="1.5"/><rect class="hm" width="36" height="8" rx="1.5"/><text class="t" x="3" y="5.5">Custom</text><use href="#dd" x="33" y="4"/><use href="#pw" x="3" y="10"/><use href="#pw" x="3" y="17"/><use href="#pw" x="33" y="10"/><rect x="7" y="15" width="27" height="27" fill="#000"/></g>
<g id="n68" transform="translate(998,461)"><rect class="b" width="25" height="21" rx="1.5"/><rect class="hm" width="25" height="7" rx="1.5"/><text class="t" x="3" y="5">Multiply</text><use href="#dd" x="22" y="3.5"/><use href="#pg" x="2" y="10"/><use href="#pg" x="2" y="17"/><use href="#ph" x="22" y="10"/></g>
<g id="n69" transform="translate(1092,565)"><rect class="b" width="36" height="43" rx="1.5"/><rect class="hm" width="36" height="8" rx="1.5"/><text class="t" x="3" y="5.5">Custom</text><use href="#du" x="33" y="4"/><use href="#pw" x="3" y="10"/><use href="#pw" x="3" y="16"/><use href="#pw" x="33" y="10"/><rect x="8" y="14" width="27" height="27" fill="#000"/></g>
<g id="n70" transform="translate(1083,641)"><rect class="b" width="26" height="21" rx="1.5"/><rect class="hm" width="26" height="7" rx="1.5"/><text class="t" x="3" y="5">Multiply</text><use href="#dd" x="23" y="3.5"/><use href="#pg" x="2" y="10"/><use href="#pg" x="2" y="17"/><use href="#pw" x="23" y="10"/></g>
<g id="n71" transform="translate(867,691)"><rect class="b" width="53" height="26" rx="1.5"/><rect class="hm" width="53" height="7" rx="1.5"/><text class="t" x="3" y="5">Cloud Sample Attributes</text><use href="#dd" x="50" y="3.5"/><use href="#ph" x="49" y="10"/><use href="#ph" x="49" y="17"/><use href="#pw" x="49" y="23"/></g>
<g id="n72" transform="translate(921,731)"><rect class="b" width="18" height="14" rx="1.5"/><rect class="hm" width="18" height="7" rx="1.5"/><text class="t" x="3" y="5">1-x</text><use href="#dd" x="15" y="3.5"/><use href="#pw" x="3" y="11"/><use href="#pw" x="15" y="11"/></g>
<g id="n73" transform="translate(957,722)"><rect class="b" width="31" height="20" rx="1.5"/><rect class="hf" width="31" height="7" rx="1.5"/><text class="t" x="3" y="5">MakeFloat2</text><use href="#pg" x="2" y="10"/><use href="#pg" x="2" y="17"/><use href="#pw" x="28" y="11"/></g>
<g id="n74" transform="translate(1012,699)"><rect class="b" width="37" height="53" rx="1.5"/><rect class="hb" width="37" height="7" rx="1.5"/><text class="t" x="3" y="5">Texture Sample</text><use href="#du" x="34" y="3.5"/><use href="#pg" x="2" y="11"/><use href="#ph" x="2" y="17"/><use href="#ph" x="2" y="24"/><use href="#pw" x="2" y="30"/><use href="#ph" x="33" y="11"/><use href="#pr" x="33" y="17"/><use href="#pn" x="33" y="24"/><use href="#pu" x="33" y="30"/><use href="#ph" x="33" y="36"/><use href="#ph" x="33" y="43"/><rect x="1" y="34" width="27" height="18" fill="#000"/></g>

<text class="big" x="1373" y="31" font-size="23" fill="#5f5f5f" textLength="89" lengthAdjust="spacingAndGlyphs">Zoom -7</text>
<text class="big" transform="translate(1128,718) scale(1,1.2)" x="0" y="0" font-size="67" fill="#4b4b4b" textLength="325" lengthAdjust="spacingAndGlyphs">MATERIAL</text>

<rect x="0" y="0" width="2" height="752" fill="#3a3a3a"/>
<rect x="1468" y="0" width="4" height="752" fill="#3a3a3a"/>
<rect x="0" y="749" width="1472" height="3" fill="#3a3a3a"/>
<polygon points="2,0 12,0 2,7" fill="#c9a227"/>
</svg>
